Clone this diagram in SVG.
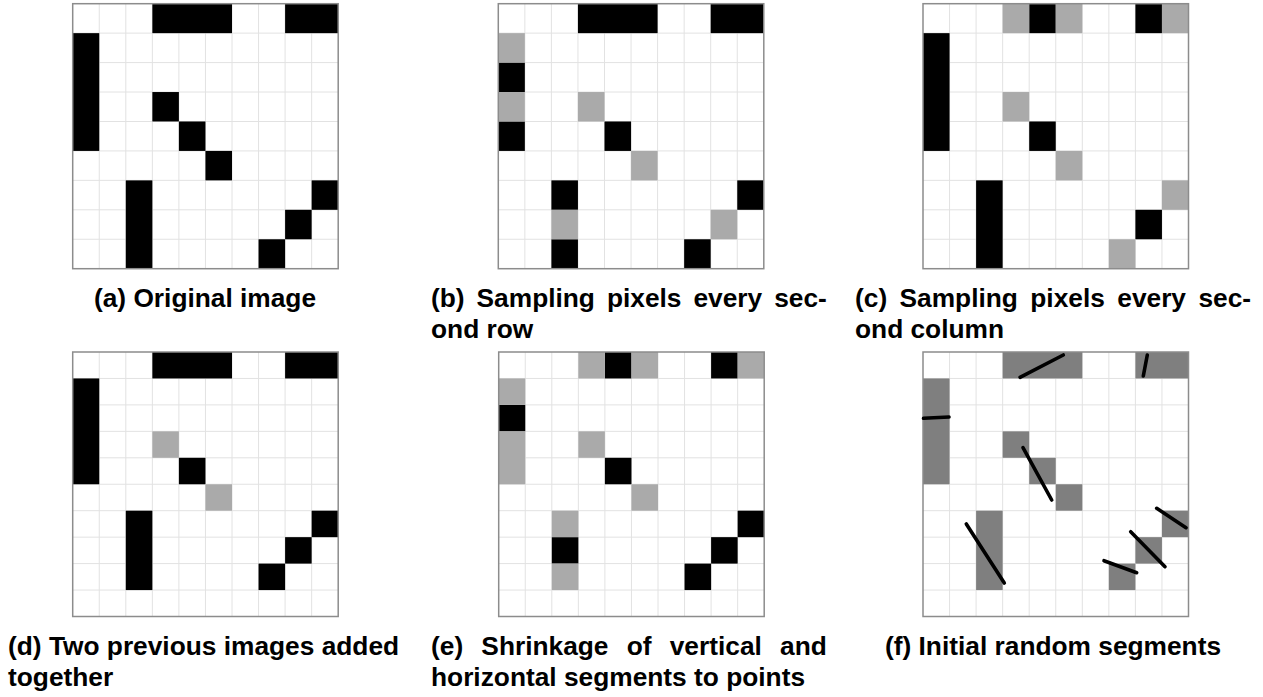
<svg xmlns="http://www.w3.org/2000/svg" xmlns:xlink="http://www.w3.org/1999/xlink" width="1263" height="697" viewBox="0 0 1263 697">
<style>
.k{fill:#000}
.g{fill:#aaaaaa}
.d{fill:#7f7f7f}
.grid{fill:none;stroke:#e2e2e2;stroke-width:1}
.border{fill:none;stroke:#8c8c8c;stroke-width:1.5}
.seg{stroke:#000;stroke-width:3.6;stroke-linecap:round}
.cap{font-family:"Liberation Sans",Arial,Helvetica,sans-serif;font-weight:bold;font-size:26.3px;fill:#000}
</style>
<defs>
<path id="gridTop" class="grid" d="M26.55 0V265M53.1 0V265M79.65 0V265M106.2 0V265M132.75 0V265M159.3 0V265M185.85 0V265M212.4 0V265M238.95 0V265M0 29.44H265.5M0 58.89H265.5M0 88.33H265.5M0 117.78H265.5M0 147.22H265.5M0 176.67H265.5M0 206.11H265.5M0 235.56H265.5"/>
<path id="gridBot" class="grid" d="M26.55 0V264.5M53.1 0V264.5M79.65 0V264.5M106.2 0V264.5M132.75 0V264.5M159.3 0V264.5M185.85 0V264.5M212.4 0V264.5M238.95 0V264.5M0 26.45H265.5M0 52.9H265.5M0 79.35H265.5M0 105.8H265.5M0 132.25H265.5M0 158.7H265.5M0 185.15H265.5M0 211.6H265.5M0 238.05H265.5"/>
</defs>
<rect width="1263" height="697" fill="#fff"/>

<g id="panel-a">
<g transform="translate(72.7,3.7)">
<rect width="265.5" height="265" fill="#fff"/>
<use href="#gridTop"/>
<rect class="k" x="79.65" y="0" width="79.65" height="29.44"/>
<rect class="k" x="212.4" y="0" width="53.1" height="29.44"/>
<rect class="k" x="0" y="29.44" width="26.55" height="117.78"/>
<rect class="k" x="79.65" y="88.33" width="26.55" height="29.44"/>
<rect class="k" x="106.2" y="117.78" width="26.55" height="29.44"/>
<rect class="k" x="132.75" y="147.22" width="26.55" height="29.44"/>
<rect class="k" x="53.1" y="176.67" width="26.55" height="88.33"/>
<rect class="k" x="238.95" y="176.67" width="26.55" height="29.44"/>
<rect class="k" x="212.4" y="206.11" width="26.55" height="29.44"/>
<rect class="k" x="185.85" y="235.56" width="26.55" height="29.44"/>
<rect class="border" width="265.5" height="265"/>
</g>
<text class="cap" x="205" y="306.5" text-anchor="middle">(a) Original image</text>
</g>

<g id="panel-b">
<g transform="translate(498.3,3.7)">
<rect width="265.5" height="265" fill="#fff"/>
<use href="#gridTop"/>
<rect class="k" x="79.65" y="0" width="79.65" height="29.44"/>
<rect class="k" x="212.4" y="0" width="53.1" height="29.44"/>
<rect class="k" x="0" y="58.89" width="26.55" height="29.44"/>
<rect class="k" x="0" y="117.78" width="26.55" height="29.44"/>
<rect class="k" x="106.2" y="117.78" width="26.55" height="29.44"/>
<rect class="k" x="53.1" y="176.67" width="26.55" height="29.44"/>
<rect class="k" x="238.95" y="176.67" width="26.55" height="29.44"/>
<rect class="k" x="53.1" y="235.56" width="26.55" height="29.44"/>
<rect class="k" x="185.85" y="235.56" width="26.55" height="29.44"/>
<rect class="g" x="0" y="29.44" width="26.55" height="29.44"/>
<rect class="g" x="0" y="88.33" width="26.55" height="29.44"/>
<rect class="g" x="79.65" y="88.33" width="26.55" height="29.44"/>
<rect class="g" x="132.75" y="147.22" width="26.55" height="29.44"/>
<rect class="g" x="53.1" y="206.11" width="26.55" height="29.44"/>
<rect class="g" x="212.4" y="206.11" width="26.55" height="29.44"/>
<rect class="border" width="265.5" height="265"/>
</g>
<text class="cap" x="431" y="306.5" word-spacing="4.7">(b) Sampling pixels every sec-</text>
<text class="cap" x="431" y="338">ond row</text>
</g>

<g id="panel-c">
<g transform="translate(923,3.7)">
<rect width="265.5" height="265" fill="#fff"/>
<use href="#gridTop"/>
<rect class="k" x="106.2" y="0" width="26.55" height="29.44"/>
<rect class="k" x="212.4" y="0" width="26.55" height="29.44"/>
<rect class="k" x="0" y="29.44" width="26.55" height="117.78"/>
<rect class="k" x="106.2" y="117.78" width="26.55" height="29.44"/>
<rect class="k" x="53.1" y="176.67" width="26.55" height="88.33"/>
<rect class="k" x="212.4" y="206.11" width="26.55" height="29.44"/>
<rect class="g" x="79.65" y="0" width="26.55" height="29.44"/>
<rect class="g" x="132.75" y="0" width="26.55" height="29.44"/>
<rect class="g" x="238.95" y="0" width="26.55" height="29.44"/>
<rect class="g" x="79.65" y="88.33" width="26.55" height="29.44"/>
<rect class="g" x="132.75" y="147.22" width="26.55" height="29.44"/>
<rect class="g" x="238.95" y="176.67" width="26.55" height="29.44"/>
<rect class="g" x="185.85" y="235.56" width="26.55" height="29.44"/>
<rect class="border" width="265.5" height="265"/>
</g>
<text class="cap" x="855" y="306.5" word-spacing="5.1">(c) Sampling pixels every sec-</text>
<text class="cap" x="855" y="338">ond column</text>
</g>

<g id="panel-d">
<g transform="translate(72.7,352)">
<rect width="265.5" height="264.5" fill="#fff"/>
<use href="#gridBot"/>
<rect class="k" x="79.65" y="0" width="79.65" height="26.45"/>
<rect class="k" x="212.4" y="0" width="53.1" height="26.45"/>
<rect class="k" x="0" y="26.45" width="26.55" height="105.8"/>
<rect class="k" x="106.2" y="105.8" width="26.55" height="26.45"/>
<rect class="k" x="53.1" y="158.7" width="26.55" height="79.35"/>
<rect class="k" x="238.95" y="158.7" width="26.55" height="26.45"/>
<rect class="k" x="212.4" y="185.15" width="26.55" height="26.45"/>
<rect class="k" x="185.85" y="211.6" width="26.55" height="26.45"/>
<rect class="g" x="79.65" y="79.35" width="26.55" height="26.45"/>
<rect class="g" x="132.75" y="132.25" width="26.55" height="26.45"/>
<rect class="border" width="265.5" height="264.5"/>
</g>
<text class="cap" x="8" y="655">(d) Two previous images added</text>
<text class="cap" x="8" y="686">together</text>
</g>

<g id="panel-e">
<g transform="translate(498.7,352)">
<rect width="265.5" height="264.5" fill="#fff"/>
<use href="#gridBot"/>
<rect class="k" x="106.2" y="0" width="26.55" height="26.45"/>
<rect class="k" x="212.4" y="0" width="26.55" height="26.45"/>
<rect class="k" x="0" y="52.9" width="26.55" height="26.45"/>
<rect class="k" x="106.2" y="105.8" width="26.55" height="26.45"/>
<rect class="k" x="238.95" y="158.7" width="26.55" height="26.45"/>
<rect class="k" x="53.1" y="185.15" width="26.55" height="26.45"/>
<rect class="k" x="212.4" y="185.15" width="26.55" height="26.45"/>
<rect class="k" x="185.85" y="211.6" width="26.55" height="26.45"/>
<rect class="g" x="79.65" y="0" width="26.55" height="26.45"/>
<rect class="g" x="132.75" y="0" width="26.55" height="26.45"/>
<rect class="g" x="238.95" y="0" width="26.55" height="26.45"/>
<rect class="g" x="0" y="26.45" width="26.55" height="26.45"/>
<rect class="g" x="0" y="79.35" width="26.55" height="52.9"/>
<rect class="g" x="79.65" y="79.35" width="26.55" height="26.45"/>
<rect class="g" x="132.75" y="132.25" width="26.55" height="26.45"/>
<rect class="g" x="53.1" y="158.7" width="26.55" height="26.45"/>
<rect class="g" x="53.1" y="211.6" width="26.55" height="26.45"/>
<rect class="border" width="265.5" height="264.5"/>
</g>
<text class="cap" x="431" y="655" word-spacing="10.9">(e) Shrinkage of vertical and</text>
<text class="cap" x="431" y="686">horizontal segments to points</text>
</g>

<g id="panel-f">
<g transform="translate(923,352)">
<rect width="265.5" height="264.5" fill="#fff"/>
<use href="#gridBot"/>
<rect class="d" x="79.65" y="0" width="79.65" height="26.45"/>
<rect class="d" x="212.4" y="0" width="53.1" height="26.45"/>
<rect class="d" x="0" y="26.45" width="26.55" height="105.8"/>
<rect class="d" x="79.65" y="79.35" width="26.55" height="26.45"/>
<rect class="d" x="106.2" y="105.8" width="26.55" height="26.45"/>
<rect class="d" x="132.75" y="132.25" width="26.55" height="26.45"/>
<rect class="d" x="53.1" y="158.7" width="26.55" height="79.35"/>
<rect class="d" x="238.95" y="158.7" width="26.55" height="26.45"/>
<rect class="d" x="212.4" y="185.15" width="26.55" height="26.45"/>
<rect class="d" x="185.85" y="211.6" width="26.55" height="26.45"/>
<rect class="border" width="265.5" height="264.5"/>
<g id="segments">
<line class="seg" x1="97" y1="25.3" x2="140.3" y2="3"/>
<line class="seg" x1="220.3" y1="24" x2="224.3" y2="3"/>
<line class="seg" x1="0.5" y1="66.3" x2="26" y2="65"/>
<line class="seg" x1="100" y1="95.7" x2="128.7" y2="148"/>
<line class="seg" x1="43.3" y1="172" x2="81.3" y2="231"/>
<line class="seg" x1="233.7" y1="156.3" x2="263" y2="175.7"/>
<line class="seg" x1="207.7" y1="179.7" x2="242" y2="214.7"/>
<line class="seg" x1="181" y1="208.7" x2="213.7" y2="220.7"/>
</g>
</g>
<text class="cap" x="1053" y="655" text-anchor="middle">(f) Initial random segments</text>
</g>
</svg>
